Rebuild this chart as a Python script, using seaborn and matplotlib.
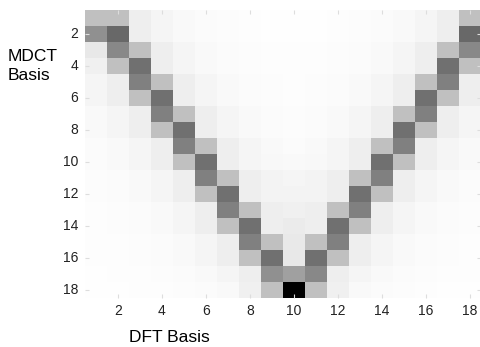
import numpy as np
import pandas as pd
import seaborn as sns
import matplotlib.pyplot as plt

# basis indices
mdct_basis = list(range(1, 19))
dft_basis = list(range(1, 19))
tick_vals = [2, 4, 6, 8, 10, 12, 14, 16, 18]

# magnitude of each MDCT basis (row) on each DFT basis (column), 0 = white, 255 = black
mag_rows = [
    [63, 63, 17, 10, 6, 4, 3, 2, 1, 1, 1, 2, 3, 4, 6, 10, 17, 63],
    [111, 151, 17, 10, 6, 4, 3, 2, 1, 1, 1, 2, 3, 4, 6, 10, 17, 151],
    [23, 119, 63, 17, 10, 6, 4, 3, 2, 2, 2, 3, 4, 6, 10, 17, 63, 119],
    [15, 63, 143, 17, 10, 6, 4, 3, 2, 2, 2, 3, 4, 6, 10, 17, 143, 63],
    [10, 17, 127, 63, 17, 10, 6, 4, 3, 2, 3, 4, 6, 10, 17, 63, 127, 17],
    [10, 17, 63, 143, 17, 10, 6, 4, 3, 2, 3, 4, 6, 10, 17, 143, 63, 17],
    [6, 10, 17, 127, 63, 17, 10, 6, 4, 3, 4, 6, 10, 17, 63, 127, 17, 10],
    [6, 10, 17, 63, 143, 17, 10, 6, 4, 3, 4, 6, 10, 17, 143, 63, 17, 10],
    [4, 6, 10, 17, 127, 63, 17, 10, 6, 4, 6, 10, 17, 63, 127, 17, 10, 6],
    [4, 6, 10, 17, 63, 143, 17, 10, 7, 6, 7, 10, 17, 143, 63, 17, 10, 6],
    [3, 4, 6, 10, 17, 127, 63, 17, 12, 10, 12, 17, 63, 127, 17, 10, 6, 4],
    [3, 4, 6, 10, 17, 63, 143, 17, 12, 12, 12, 17, 143, 63, 17, 10, 6, 4],
    [2, 3, 4, 6, 10, 17, 127, 63, 17, 15, 17, 63, 127, 17, 10, 6, 4, 3],
    [2, 3, 4, 6, 10, 17, 63, 143, 17, 20, 17, 143, 63, 17, 10, 6, 4, 3],
    [2, 2, 3, 4, 6, 10, 17, 127, 63, 22, 63, 127, 17, 10, 6, 4, 3, 2],
    [2, 2, 3, 4, 6, 10, 17, 63, 143, 23, 143, 63, 17, 10, 6, 4, 3, 2],
    [1, 2, 2, 3, 4, 6, 10, 17, 111, 95, 119, 17, 10, 6, 4, 3, 2, 2],
    [1, 1, 2, 2, 3, 4, 6, 15, 63, 255, 63, 15, 6, 4, 3, 2, 1, 1],
]

df = pd.DataFrame(mag_rows, index=mdct_basis, columns=dft_basis)

plt.rcParams['font.family'] = ['Liberation Sans', 'DejaVu Sans']

fig = plt.figure(figsize=(4.81, 3.47), dpi=100)
ax = fig.add_axes([85/481, 49/347, 396/481, 288/347])
sns.heatmap(df, cmap="gray_r", vmin=0, vmax=255, cbar=False, ax=ax)

# ticks at the even basis numbers
ax.set_xticks([dft_basis.index(v) + 0.5 for v in tick_vals])
ax.set_xticklabels(tick_vals, rotation=0)
ax.set_yticks([mdct_basis.index(v) + 0.5 for v in tick_vals])
ax.set_yticklabels(tick_vals, rotation=0)
ax.tick_params(direction="in", length=3, width=0.8, color="#dddddd",
               labelsize=10, labelcolor="#222222", top=True, right=True)
ax.tick_params(axis="x", pad=4)
ax.tick_params(axis="y", pad=5)
ax.set_xlabel("")
ax.set_ylabel("")

# axis labels placed like the original
fig.text(8/481, 1 - 61/347, "MDCT", fontsize=12.5, va="baseline", ha="left")
fig.text(8/481, 1 - 80/347, "Basis", fontsize=12.5, va="baseline", ha="left")
fig.text(129/481, 1 - 342/347, "DFT Basis", fontsize=12.5, va="baseline", ha="left")

fig.savefig("out.png", dpi=100)
